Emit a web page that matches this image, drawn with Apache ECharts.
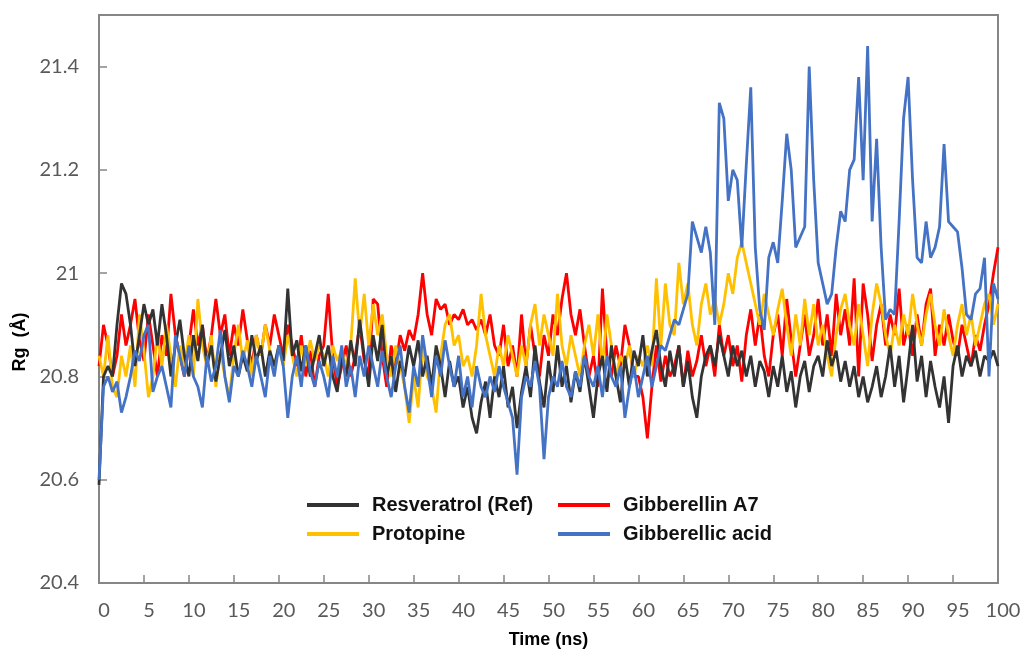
<!DOCTYPE html>
<html>
<head>
<meta charset="utf-8">
<script src="https://cdn.jsdelivr.net/npm/echarts@6/dist/echarts.min.js"></script>
<style>
  html, body { margin: 0; background: #fff; }
  #main { width: 1035px; height: 657px; }
</style>
</head>
<body>
<div id="main"></div>
<script>
// sampling grid: one frame every 0.5 ns, 0..100 ns
var timeNs = [];
for (var i = 0; i <= 200; i++) timeNs.push(i / 2);

var seriesNames = ['Resveratrol (Ref)', 'Gibberellin A7', 'Protopine', 'Gibberellic acid'];
var yTicks = [20.4, 20.6, 20.8, 21, 21.2, 21.4];

// Rg values (Å)
var resveratrol = [
  20.59,20.80,20.82,20.80,20.90,20.98,20.96,20.90,20.82,20.88,20.94,20.90,20.93,20.86,20.94,20.88,20.80,20.86,20.91,20.84,
  20.80,20.88,20.83,20.90,20.82,20.86,20.79,20.84,20.89,20.82,20.86,20.80,20.84,20.81,20.88,20.83,20.86,20.80,20.85,20.82,
  20.86,20.83,20.97,20.84,20.87,20.81,20.86,20.80,20.84,20.88,20.82,20.86,20.80,20.77,20.84,20.80,20.87,20.82,20.91,20.84,
  20.78,20.88,20.83,20.90,20.80,20.84,20.77,20.83,20.80,20.86,20.82,20.87,20.80,20.84,20.78,20.86,20.82,20.76,20.83,20.78,
  20.80,20.74,20.78,20.72,20.69,20.75,20.79,20.72,20.80,20.76,20.82,20.74,20.78,20.70,20.77,20.82,20.76,20.86,20.79,20.74,
  20.83,20.77,20.86,20.78,20.82,20.75,20.81,20.77,20.84,20.78,20.72,20.80,20.84,20.77,20.86,20.80,20.75,20.84,20.78,20.85,
  20.82,20.88,20.80,20.85,20.89,20.82,20.78,20.85,20.80,20.86,20.78,20.83,20.76,20.72,20.80,20.84,20.86,20.82,20.88,20.84,
  20.80,20.86,20.82,20.85,20.80,20.84,20.78,20.83,20.81,20.76,20.82,20.78,20.84,20.77,20.81,20.74,20.80,20.83,20.77,20.82,
  20.84,20.80,20.87,20.82,20.85,20.79,20.83,20.78,20.82,20.76,20.80,20.75,20.78,20.82,20.76,20.80,20.86,20.78,20.84,20.75,
  20.82,20.90,20.79,20.84,20.76,20.83,20.78,20.74,20.80,20.71,20.82,20.86,20.80,20.84,20.82,20.85,20.80,20.84,20.83,20.85,
  20.82
];

var gibberellinA7 = [
  20.82,20.90,20.86,20.80,20.84,20.92,20.86,20.90,20.95,20.87,20.83,20.92,20.86,20.80,20.88,20.84,20.96,20.88,20.84,20.80,
  20.86,20.93,20.86,20.90,20.83,20.88,20.95,20.88,20.92,20.84,20.90,20.86,20.93,20.87,20.82,20.88,20.84,20.90,20.86,20.92,
  20.88,20.84,20.90,20.86,20.82,20.88,20.80,20.85,20.78,20.84,20.86,20.96,20.84,20.78,20.82,20.86,20.80,20.84,20.90,20.83,
  20.80,20.95,20.94,20.84,20.78,20.86,20.82,20.88,20.85,20.89,20.87,20.92,21.00,20.92,20.88,20.95,20.93,20.94,20.90,20.92,
  20.91,20.93,20.90,20.91,20.89,20.91,20.88,20.92,20.86,20.84,20.90,20.82,20.86,20.80,20.92,20.82,20.90,20.84,20.80,20.88,
  20.84,20.92,20.88,20.95,21.00,20.92,20.88,20.93,20.86,20.80,20.84,20.78,20.97,20.84,20.80,20.86,20.82,20.90,20.86,20.80,
  20.80,20.76,20.68,20.78,20.86,20.79,20.84,20.80,20.82,20.86,20.78,20.85,20.80,20.83,20.88,20.82,20.86,20.80,20.90,20.84,
  20.88,20.82,20.86,20.79,20.88,20.93,20.86,20.92,20.84,20.80,20.88,20.92,20.84,20.95,20.87,20.80,20.86,20.92,20.84,20.88,
  20.95,20.86,20.92,20.84,20.96,20.88,20.93,20.86,20.99,20.80,20.98,20.92,20.83,20.90,20.94,20.86,20.92,20.88,20.97,20.86,
  20.90,20.84,20.92,20.86,20.94,20.97,20.84,20.90,20.86,20.92,20.87,20.84,20.90,20.86,20.82,20.88,20.85,20.90,20.94,21.00,
  21.05
];

var protopine = [
  20.84,20.80,20.88,20.78,20.76,20.84,20.80,20.86,20.78,20.92,20.85,20.76,20.80,20.88,20.82,20.90,20.84,20.78,20.86,20.82,
  20.88,20.80,20.95,20.86,20.82,20.88,20.78,20.85,20.80,20.76,20.84,20.90,20.83,20.87,20.80,20.88,20.84,20.90,20.85,20.81,
  20.86,20.82,20.88,20.84,20.80,20.86,20.82,20.87,20.83,20.86,20.84,20.80,20.86,20.83,20.85,20.82,20.86,20.99,20.88,20.96,
  20.86,20.94,20.88,20.92,20.84,20.80,20.86,20.82,20.78,20.71,20.80,20.74,20.86,20.80,20.78,20.73,20.84,20.90,20.92,20.86,
  20.88,20.82,20.84,20.80,20.86,20.96,20.88,20.84,20.80,20.86,20.82,20.88,20.84,20.80,20.86,20.82,20.90,20.94,20.86,20.92,
  20.88,20.84,20.96,20.86,20.82,20.88,20.84,20.80,20.86,20.90,20.84,20.92,20.82,20.92,20.86,20.80,20.84,20.82,20.86,20.80,
  20.84,20.82,20.86,20.82,20.99,20.86,20.98,20.90,20.88,21.02,20.94,20.98,20.90,20.86,20.94,20.98,20.92,20.95,20.90,20.94,
  21.00,20.96,21.03,21.06,21.02,20.98,20.94,20.90,20.96,20.92,20.88,20.93,20.97,20.90,20.84,20.92,20.86,20.95,20.88,20.94,
  20.86,20.90,20.84,20.80,20.88,20.93,20.96,20.90,20.86,20.94,20.88,20.82,20.92,20.98,20.94,20.88,20.84,20.90,20.86,20.92,
  20.88,20.96,20.90,20.86,20.92,20.96,20.90,20.86,20.93,20.88,20.84,20.90,20.94,20.88,20.92,20.86,20.90,20.94,20.96,20.90,
  20.94
];

var gibberellicAcid = [
  20.60,20.78,20.80,20.77,20.79,20.73,20.76,20.80,20.85,20.83,20.88,20.90,20.77,20.80,20.82,20.78,20.74,20.88,20.84,20.80,
  20.86,20.80,20.78,20.74,20.84,20.79,20.82,20.89,20.80,20.75,20.82,20.80,20.85,20.82,20.78,20.84,20.80,20.76,20.84,20.80,
  20.86,20.82,20.72,20.80,20.84,20.78,20.86,20.81,20.78,20.83,20.80,20.76,20.84,20.80,20.86,20.78,20.82,20.76,20.84,20.80,
  20.86,20.82,20.78,20.85,20.80,20.76,20.82,20.86,20.78,20.73,20.82,20.78,20.88,20.82,20.76,20.84,20.80,20.87,20.82,20.78,
  20.84,20.76,20.80,20.74,20.82,20.78,20.76,20.80,20.77,20.82,20.78,20.75,20.72,20.61,20.76,20.80,20.78,20.83,20.78,20.64,
  20.76,20.80,20.78,20.83,20.78,20.76,20.81,20.78,20.84,20.80,20.78,20.82,20.76,20.84,20.80,20.78,20.82,20.72,20.78,20.82,
  20.76,20.80,20.84,20.78,20.82,20.86,20.85,20.88,20.91,20.90,20.93,20.96,21.10,21.07,21.04,21.09,21.04,20.90,21.33,21.30,
  21.14,21.20,21.18,21.05,21.21,21.36,21.05,20.93,20.89,21.03,21.06,21.02,21.14,21.27,21.20,21.05,21.07,21.09,21.40,21.18,
  21.02,20.98,20.94,20.96,21.05,21.12,21.10,21.20,21.22,21.38,21.18,21.44,21.10,21.26,21.05,20.91,20.93,20.92,21.10,21.30,
  21.38,21.18,21.03,21.02,21.10,21.03,21.05,21.09,21.25,21.10,21.09,21.08,21.01,20.92,20.91,20.96,20.97,21.03,20.80,20.98,
  20.95
];

var colors = {
  'Resveratrol (Ref)': '#333333',
  'Gibberellin A7': '#ff0000',
  'Protopine': '#ffc000',
  'Gibberellic acid': '#4472c4'
};

function pairs(values) {
  return values.map(function (v, i) { return [timeNs[i], v]; });
}

function lineSeries(name, values, z) {
  return {
    name: name,
    type: 'line',
    data: pairs(values),
    showSymbol: false,
    symbol: 'none',
    z: z,
    itemStyle: { color: colors[name] },
    lineStyle: { color: colors[name], width: 2.8 }
  };
}

function legendAt(name, left, top) {
  return {
    data: [name],
    left: left,
    top: top,
    icon: 'rect',
    itemWidth: 52,
    itemHeight: 4,
    selectedMode: false,
    textStyle: {
      fontFamily: 'Liberation Sans',
      fontWeight: 'bold',
      fontSize: 20,
      color: '#111',
      padding: [0, 0, 0, 8]
    }
  };
}

var chart = echarts.init(document.getElementById('main'), null, { renderer: 'canvas' });

var axisColor = '#868686';
var option = {
  animation: false,
  backgroundColor: '#fff',
  grid: {
    left: 99, top: 15, right: 37, bottom: 74,
    show: true, borderColor: axisColor, borderWidth: 2
  },
  legend: [
    legendAt(seriesNames[0], 302, 490),
    legendAt(seriesNames[1], 553, 490),
    legendAt(seriesNames[2], 302, 519),
    legendAt(seriesNames[3], 553, 519)
  ],
  xAxis: {
    type: 'value',
    min: 0,
    max: 100,
    interval: 5,
    name: 'Time (ns)',
    nameLocation: 'middle',
    nameGap: 48,
    nameTextStyle: { fontFamily: 'Liberation Sans', fontWeight: 'bold', fontSize: 18, color: '#000' },
    axisLine: { lineStyle: { color: axisColor, width: 2 } },
    axisTick: { inside: true, length: 8, lineStyle: { color: axisColor, width: 1.5 } },
    axisLabel: { fontFamily: 'Lato', fontSize: 20, color: '#595959', margin: 18, padding: [0, 0, 0, 10] },
    splitLine: { show: false }
  },
  yAxis: {
    type: 'value',
    min: yTicks[0],
    max: 21.5,
    interval: 0.2,
    name: 'Rg  (Å)',
    nameLocation: 'middle',
    nameGap: 62,
    nameTextStyle: { fontFamily: 'Liberation Sans', fontWeight: 'bold', fontSize: 18, color: '#000', padding: [0, 86, 0, 0] },
    axisLine: { show: true, lineStyle: { color: axisColor, width: 2 } },
    axisTick: { show: true, inside: true, length: 8, lineStyle: { color: axisColor, width: 1.5 } },
    axisLabel: { fontFamily: 'Lato', fontSize: 20, color: '#595959', margin: 20, showMaxLabel: false },
    splitLine: { show: false }
  },
  series: [
    lineSeries(seriesNames[1], gibberellinA7, 2),
    lineSeries(seriesNames[2], protopine, 3),
    lineSeries(seriesNames[0], resveratrol, 4),
    lineSeries(seriesNames[3], gibberellicAcid, 5)
  ]
};

chart.setOption(option);
</script>
</body>
</html>
